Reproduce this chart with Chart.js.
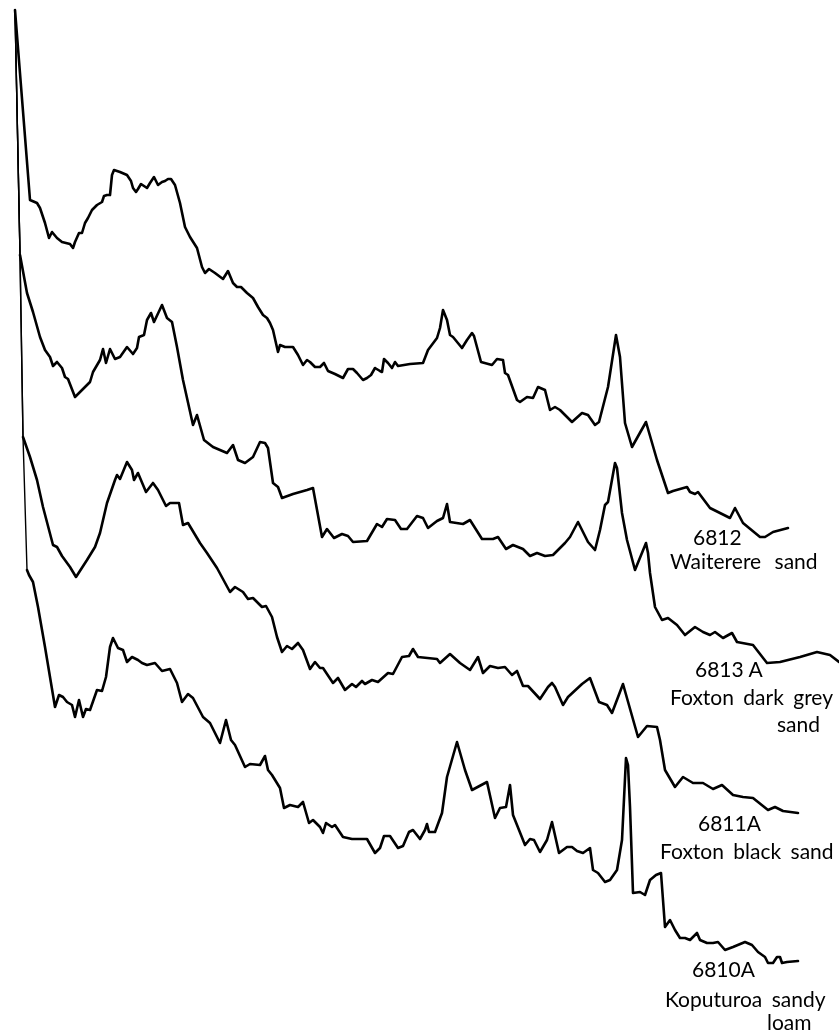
<!DOCTYPE html>
<html>
<head>
<meta charset="utf-8">
<script src="https://cdn.jsdelivr.net/npm/chart.js@4/dist/chart.umd.min.js"></script>
<style>
    body { margin: 0; background: #fff; }
    #wrap { position: relative; width: 839px; height: 1032px; }
    .lbl {
        position: absolute;
        font-family: Lato, "Noto Sans", sans-serif;
        font-size: 21px;
        line-height: 21px;
        color: #000;
        white-space: nowrap;
    }
</style>
</head>
<body>
<div id="wrap">
    <canvas id="chart" width="839" height="1032"></canvas>
    <div class="lbl" style="left:693px; top:526px;">6812</div>
    <div class="lbl" style="left:670px; top:550px; word-spacing:8px;">Waiterere sand</div>
    <div class="lbl" style="left:695px; top:658px;">6813 A</div>
    <div class="lbl" style="left:670px; top:686px; word-spacing:4px;">Foxton dark grey</div>
    <div class="lbl" style="left:777px; top:713px;">sand</div>
    <div class="lbl" style="left:698px; top:812px;">6811A</div>
    <div class="lbl" style="left:660px; top:840px; word-spacing:4px;">Foxton black sand</div>
    <div class="lbl" style="left:692px; top:958px;">6810A</div>
    <div class="lbl" style="left:665px; top:988px; word-spacing:4px;">Koputuroa sandy</div>
    <div class="lbl" style="left:767px; top:1011px;">loam</div>
</div>
<script>
// traces: [position, deflection below top]
const waiterere = [[15,10],[30,200],[37,203],[40,208],[45,223],[49,238],[52,232],[57,238],[62,242],[70,244],[73,248],[75,242],[79,233],[82,233],[85,223],[88,218],[92,210],[97,205],[102,202],[104,196],[107,195],[110,195],[112,175],[114,170],[120,172],[127,175],[131,181],[133,188],[136,192],[138,189],[141,184],[144,186],[147,188],[150,183],[154,177],[158,185],[162,182],[165,181],[168,179],[171,179],[175,185],[180,203],[185,227],[190,237],[197,248],[202,267],[205,273],[209,269],[215,273],[223,279],[228,271],[233,283],[237,287],[241,287],[247,293],[253,298],[258,307],[263,315],[267,318],[270,323],[273,330],[278,352],[280,345],[285,347],[293,347],[298,355],[303,365],[307,360],[310,362],[315,367],[320,367],[324,363],[328,371],[335,374],[343,378],[348,369],[353,369],[357,373],[363,380],[367,378],[371,375],[375,368],[380,371],[382,372],[384,359],[388,363],[392,368],[395,362],[398,366],[410,364],[423,363],[428,350],[437,338],[440,328],[443,310],[447,320],[450,335],[453,337],[462,348],[467,340],[472,333],[474,336],[481,362],[492,365],[497,359],[503,360],[505,373],[508,375],[517,400],[520,402],[527,397],[533,398],[538,387],[545,390],[550,410],[555,407],[560,410],[572,422],[582,413],[588,415],[595,425],[599,422],[608,387],[616,335],[620,357],[625,423],[632,447],[646,422],[657,460],[668,493],[673,491],[687,487],[690,492],[695,494],[698,492],[710,508],[720,513],[730,518],[735,508],[743,523],[760,537],[765,537],[773,532],[788,528]];

const foxtonGrey = [[15,10],[20,255],[27,293],[33,312],[40,337],[45,350],[50,357],[53,366],[57,362],[62,368],[65,377],[68,379],[75,397],[82,390],[90,382],[93,372],[100,360],[103,349],[106,363],[110,349],[115,359],[120,357],[127,347],[133,354],[137,348],[139,337],[144,335],[147,320],[151,313],[154,322],[162,305],[167,318],[172,322],[177,347],[183,380],[193,425],[197,415],[204,440],[213,447],[227,453],[233,445],[238,460],[245,463],[253,457],[260,442],[265,443],[268,448],[273,483],[278,487],[282,498],[293,494],[307,490],[313,488],[322,537],[327,529],[334,538],[342,534],[348,536],[353,542],[367,541],[377,524],[382,527],[387,519],[395,520],[401,529],[407,529],[417,516],[423,518],[428,528],[437,521],[443,518],[447,504],[450,522],[463,524],[470,520],[482,539],[493,539],[498,537],[506,549],[513,545],[523,549],[530,556],[537,553],[545,556],[553,555],[565,543],[570,537],[578,522],[583,532],[588,542],[595,550],[600,530],[605,505],[608,502],[615,463],[617,468],[622,513],[627,540],[635,570],[646,543],[648,553],[650,573],[655,607],[662,620],[668,618],[677,625],[685,635],[695,627],[703,632],[710,635],[715,632],[723,638],[732,633],[737,642],[753,645],[767,663],[780,662],[800,657],[817,652],[830,655],[839,662]];

const foxtonBlack = [[15,10],[20,255],[23,437],[30,457],[37,480],[43,507],[53,545],[57,547],[62,556],[70,567],[76,577],[87,560],[95,547],[100,533],[107,503],[115,480],[117,475],[120,479],[127,462],[132,470],[134,480],[138,473],[146,492],[153,483],[158,490],[166,506],[170,503],[179,503],[183,525],[188,523],[200,543],[207,553],[217,568],[230,592],[235,587],[243,592],[248,599],[253,598],[262,607],[266,606],[272,617],[277,637],[282,652],[287,646],[292,649],[298,643],[303,650],[310,669],[315,662],[320,668],[323,668],[333,683],[338,678],[345,690],[352,684],[356,687],[362,681],[365,684],[372,680],[378,682],[388,673],[393,674],[402,657],[409,656],[413,649],[418,657],[437,659],[440,663],[450,654],[460,663],[470,670],[478,657],[483,673],[490,666],[498,668],[505,667],[512,675],[517,671],[523,686],[528,686],[540,699],[548,687],[552,683],[555,687],[563,705],[568,697],[582,684],[590,678],[599,702],[607,705],[612,713],[623,684],[638,737],[647,726],[657,727],[660,740],[665,770],[675,787],[683,777],[693,783],[703,783],[713,789],[722,785],[733,795],[743,797],[753,798],[768,810],[775,807],[783,811],[798,813]];

const koputuroa = [[15,10],[20,255],[23,437],[27,570],[29,575],[33,582],[38,607],[45,647],[55,707],[59,695],[63,697],[67,702],[72,705],[75,717],[79,700],[83,717],[86,709],[90,710],[97,690],[102,691],[106,677],[110,647],[113,638],[118,648],[123,650],[127,662],[132,657],[138,660],[142,663],[147,665],[155,663],[162,671],[170,669],[177,683],[182,702],[188,694],[193,698],[203,717],[210,723],[220,743],[226,720],[231,740],[235,745],[245,767],[250,764],[260,765],[265,756],[268,770],[272,775],[280,788],[284,808],[290,805],[298,807],[303,802],[309,823],[313,820],[320,827],[323,833],[326,823],[332,827],[335,825],[343,837],[352,839],[367,839],[375,853],[380,848],[384,836],[390,836],[398,848],[403,846],[409,832],[413,830],[420,839],[425,830],[427,824],[429,832],[435,832],[442,813],[447,777],[457,742],[465,770],[472,790],[487,782],[495,818],[500,808],[506,807],[510,785],[513,815],[525,845],[530,839],[534,840],[540,852],[547,840],[552,822],[559,853],[567,847],[572,847],[577,851],[583,853],[590,848],[593,870],[598,873],[605,882],[610,880],[617,870],[622,840],[626,758],[628,765],[630,807],[633,893],[640,892],[645,895],[650,880],[656,875],[661,873],[663,900],[665,927],[670,920],[675,930],[680,938],[685,938],[690,940],[697,933],[700,940],[707,943],[713,943],[718,942],[725,950],[733,947],[745,942],[752,945],[758,952],[765,957],[768,963],[773,963],[777,957],[780,957],[782,963],[787,962],[798,961]];

// how many leading segments are the shared thin rise at the left
const traces = [
    { name: "6812 Waiterere sand", pts: waiterere, lead: 0 },
    { name: "6813 A Foxton dark grey sand", pts: foxtonGrey, lead: 1 },
    { name: "6811A Foxton black sand", pts: foxtonBlack, lead: 2 },
    { name: "6810A Koputuroa sandy loam", pts: koputuroa, lead: 3 }
];

const datasets = traces.map(t => ({
    label: t.name,
    data: t.pts.map(p => ({ x: p[0], y: p[1] })),
    showLine: true,
    borderColor: "#000",
    borderWidth: 2.6,
    pointRadius: 0,
    tension: 0,
    borderJoinStyle: "round",
    borderCapStyle: "round",
    segment: {
        borderWidth: ctx => ctx.p0DataIndex < t.lead ? 1.4 : 2.6
    }
}));

new Chart("chart", {
    type: "scatter",
    data: { datasets: datasets },
    options: {
        responsive: false,
        animation: false,
        layout: { padding: 0 },
        plugins: {
            legend: { display: false },
            tooltip: { enabled: false }
        },
        scales: {
            x: { type: "linear", min: 0, max: 839, display: false },
            y: { type: "linear", min: 0, max: 1032, reverse: true, display: false }
        }
    }
});
</script>
</body>
</html>
